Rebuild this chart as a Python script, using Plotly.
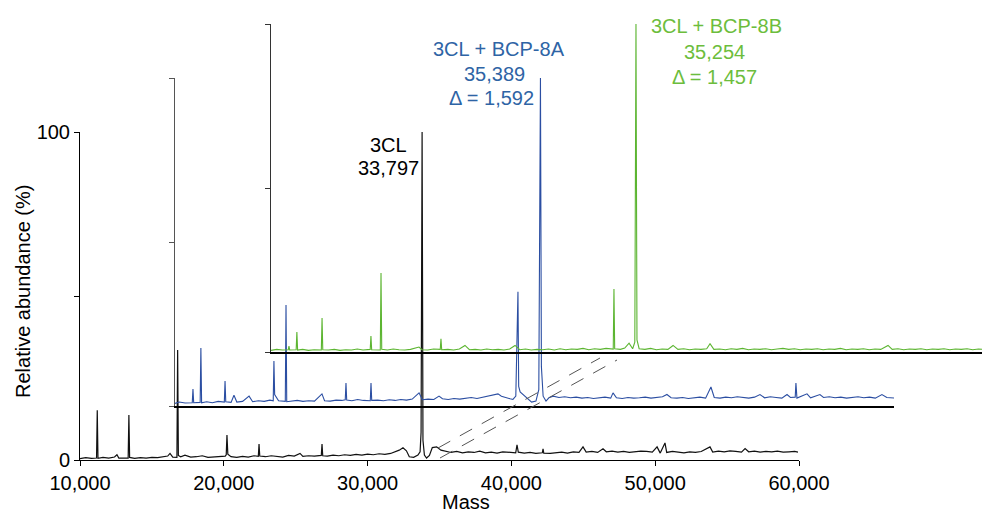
import plotly.graph_objects as go

W, H = 982, 513

# ---------------- data ----------------
black_mass = [10000, 10400, 10800, 11150, 11200, 11250, 11600, 12000, 12400, 12570, 12700, 13000,
              13350, 13400, 13450, 13800, 14200, 14600, 15000, 15400, 15800, 16100, 16260, 16450,
              16740, 16790, 16840, 17000, 17300, 17700, 18100, 18500, 18900, 19300, 19700, 20100,
              20170, 20220, 20280, 20500, 20900, 21300, 21700, 22100, 22400, 22450, 22500, 22900,
              23300, 23700, 24100, 24500, 24900, 25300, 25500, 25900, 26300, 26780, 26830, 26880,
              27200, 27600, 28000, 28400, 28800, 29200, 29600, 30000, 30400, 30800, 31200, 31600,
              31900, 32200, 32460, 32700, 32900, 33200, 33500, 33650, 33720, 33790, 33850, 33950,
              34100, 34300, 34500, 34800, 35100, 35400, 35800, 36200, 36600, 37000, 37400, 37800,
              38200, 38600, 39000, 39400, 39800, 40300, 40390, 40480, 40900, 41300, 41700, 42150,
              42200, 42250, 42700, 43100, 43500, 43900, 44300, 44700, 44980, 45200, 45600, 46000,
              46370, 46600, 47000, 47400, 47800, 48200, 48600, 49000, 49400, 49800, 50130, 50350,
              50680, 50800, 51200, 51600, 52000, 52400, 52800, 53200, 53810, 54000, 54400, 54800,
              55200, 55600, 56000, 56250, 56500, 56900, 57300, 57700, 58100, 58500, 58900, 59300,
              59700, 59930]
black_abund = [0.4, 0.7, 0.5, 0.6, 15.2, 0.5, 0.8, 0.6, 0.9, 1.6, 0.6, 0.7,
               0.6, 13.7, 0.8, 0.5, 0.7, 0.6, 0.8, 0.7, 0.9, 1.2, 2.0, 0.9,
               0.8, 33.5, 1.4, 1.0, 1.5, 0.9, 1.0, 1.3, 0.8, 0.9, 1.1, 1.2,
               1.6, 7.6, 1.8, 1.0, 0.8, 1.1, 0.9, 1.3, 1.1, 4.9, 1.2, 1.0,
               1.3, 1.1, 0.9, 1.4, 1.2, 2.0, 1.1, 1.3, 1.2, 1.4, 4.9, 1.3,
               1.2, 1.5, 1.3, 1.6, 1.4, 1.7, 1.5, 1.8, 1.6, 1.9, 1.7, 2.0,
               2.4, 3.0, 3.7, 2.8, 1.0, 0.8, 1.5, 2.5, 8.5, 100, 6.0, 1.5,
               0.6, 1.4, 3.8, 4.0, 3.0, 2.6, 2.3, 2.6, 2.2, 2.5, 2.3, 2.7,
               2.2, 2.4, 2.1, 2.5, 2.3, 2.2, 4.6, 2.4, 2.1, 2.3, 2.0, 2.2,
               3.4, 2.1, 2.0, 2.2, 2.4, 2.1, 2.5, 2.3, 4.0, 2.4, 2.6, 2.3,
               3.4, 2.5, 2.7, 2.4, 2.6, 2.3, 2.5, 2.7, 2.6, 2.4, 4.0, 2.1,
               5.2, 2.3, 2.6, 2.4, 2.2, 2.5, 2.3, 2.6, 4.0, 2.4, 2.7, 2.5,
               2.8, 2.6, 2.4, 3.5, 2.5, 2.7, 2.4, 2.6, 2.5, 2.7, 2.4, 2.5,
               2.6, 2.4]

blue_mass = [10000, 10300, 10700, 11200, 11250, 11300, 11750, 11800, 11850, 12200, 12600, 13000,
             13430, 13480, 13530, 13900, 14100, 14300, 14700, 15150, 15400, 15800, 16200, 16600,
             16830, 16880, 16930, 17200, 17670, 17720, 17770, 18100, 18500, 18900, 19300, 19700,
             20220, 20400, 20800, 21200, 21600, 21840, 21890, 21940, 22300, 22700, 23100, 23580,
             23630, 23680, 24100, 24500, 24900, 25300, 25700, 26100, 26500, 26970, 27200, 27600,
             28000, 28360, 28600, 29000, 29400, 29800, 30200, 30600, 31000, 31400, 31800, 32200,
             32460, 32700, 33000, 33300, 33500, 33700, 33850, 33900, 34000, 34200, 34500, 34800,
             35100, 35300, 35414, 35480, 35600, 35800, 36000, 36300, 36700, 37100, 37500, 37900,
             38300, 38700, 39100, 39500, 39900, 40300, 40460, 40700, 41100, 41500, 41900, 42300,
             42700, 43100, 43500, 43900, 44210, 44500, 44900, 45300, 45700, 46100, 46500, 46900,
             47270, 47500, 47900, 48300, 48700, 49100, 49500, 49900, 50300, 50680, 51000, 51400,
             51800, 52200, 52560, 52800, 53130, 53180, 53250, 53950, 54200, 54850, 55100, 55500,
             55900, 56300, 56700, 57100, 57500, 57900, 58300, 58700, 59160, 59500, 59800, 60100]
blue_abund = [0.8, 1.2, 0.9, 1.0, 5.2, 1.0, 1.1, 17.7, 1.0, 1.3, 1.0, 1.4,
              1.2, 7.6, 1.3, 1.1, 3.3, 1.2, 1.4, 3.0, 1.3, 1.6, 1.4, 1.8,
              1.6, 13.7, 3.5, 1.6, 1.4, 30.8, 1.3, 1.5, 1.7, 1.4, 1.6, 1.5,
              3.7, 1.6, 1.5, 1.8, 1.7, 1.9, 7.0, 1.8, 1.6, 2.0, 1.7, 1.6,
              7.0, 1.7, 1.8, 1.6, 1.9, 1.7, 2.0, 1.8, 2.1, 4.0, 1.9, 2.1,
              2.0, 3.0, 2.2, 2.0, 2.3, 2.1, 2.4, 2.6, 2.3, 2.7, 2.9, 3.4,
              3.7, 3.0, 2.5, 2.2, 2.0, 3.0, 34.8, 6.0, 4.3, 3.5, 2.5, 1.2,
              1.5, 5.0, 100, 12.0, 3.0, 1.5, 2.5, 3.0, 2.6, 2.8, 2.5, 2.7,
              2.4, 2.6, 2.3, 2.5, 2.7, 2.4, 4.0, 2.5, 2.3, 2.6, 2.4, 2.5,
              2.7, 2.4, 2.6, 2.8, 3.5, 2.5, 2.4, 2.6, 2.3, 2.5, 2.7, 2.4,
              5.8, 2.6, 2.4, 2.7, 2.5, 2.8, 2.6, 2.4, 2.7, 3.5, 2.5, 2.8,
              2.6, 2.4, 3.5, 2.6, 2.7, 7.0, 2.4, 3.7, 2.5, 3.5, 2.6, 2.8,
              2.5, 2.7, 2.4, 2.6, 2.8, 2.5, 2.7, 2.4, 3.5, 2.6, 2.5, 2.4]

green_mass = [10000, 10400, 10800, 11200, 11250, 11300, 11750, 11800, 11850, 12200, 12600, 13000,
              13500, 13550, 13600, 14000, 14400, 14800, 15200, 15600, 16000, 16400, 16900, 16950,
              17000, 17600, 17650, 17700, 18100, 18500, 18900, 19300, 19700, 20290, 20500, 20900,
              21300, 21770, 21820, 21870, 22300, 22700, 23100, 23490, 23800, 24200, 24600, 25000,
              25400, 25800, 26200, 26600, 26970, 27300, 27700, 28100, 28500, 28900, 29300, 29700,
              30100, 30500, 30900, 31300, 31700, 32100, 32500, 32900, 33300, 33800, 33850, 33900,
              34300, 34600, 34900, 35150, 35300, 35381, 35450, 35600, 36000, 36400, 36800, 37200,
              37600, 37960, 38300, 38700, 39100, 39500, 39900, 40300, 40530, 40800, 41200, 41600,
              42000, 42400, 42800, 43200, 43600, 44000, 44400, 44800, 45200, 45600, 46000, 46400,
              46800, 47200, 47600, 48000, 48400, 48800, 49200, 49600, 50000, 50400, 50800, 51200,
              51600, 52000, 52400, 52910, 53200, 53600, 54000, 54400, 54800, 55200, 55600, 56000,
              56400, 56800, 57200, 57600, 58000, 58400, 58800, 59200, 59600, 60000]
green_abund = [0.5, 0.8, 0.6, 0.7, 1.8, 0.6, 0.7, 6.1, 0.6, 0.8, 0.5, 0.7,
               0.6, 10.4, 0.7, 0.6, 0.8, 0.5, 0.7, 0.6, 0.9, 0.6, 0.8, 4.9,
               0.7, 0.6, 24.1, 0.8, 0.6, 0.9, 0.7, 0.6, 0.8, 1.5, 0.7, 0.6,
               0.9, 0.8, 4.0, 0.7, 0.8, 0.6, 0.9, 2.0, 0.7, 0.8, 0.6, 0.9,
               0.7, 0.8, 0.6, 0.9, 2.0, 0.7, 0.9, 0.6, 0.8, 0.7, 0.9, 0.6,
               1.0, 0.7, 0.9, 0.8, 1.1, 0.7, 1.0, 0.8, 1.1, 0.9, 19.2, 1.0,
               0.8, 1.2, 2.7, 1.0, 3.0, 100, 3.7, 1.0, 0.8, 1.1, 0.7, 0.9,
               0.8, 2.0, 0.8, 1.0, 0.7, 0.9, 0.8, 1.0, 2.5, 0.8, 0.9, 0.7,
               1.0, 0.8, 1.1, 0.7, 0.9, 0.8, 1.0, 0.7, 0.9, 1.1, 0.8, 1.0,
               0.7, 0.9, 0.8, 1.0, 0.7, 0.9, 0.8, 1.1, 0.7, 0.9, 0.8, 1.0,
               0.7, 0.9, 0.8, 2.0, 0.8, 1.0, 0.7, 0.9, 0.8, 1.0, 0.7, 0.9,
               0.8, 1.0, 0.7, 0.9, 0.8, 1.0, 0.7, 0.9, 0.8, 0.9]

mass_ticks = [10000, 20000, 30000, 40000, 50000, 60000]
mass_tick_text = ["10,000", "20,000", "30,000", "40,000", "50,000", "60,000"]
abund_ticks = [0, 50, 100]
abund_tick_text = ["0", "", "100"]

labels_black = ["3CL", "33,797"]
labels_blue = ["3CL + BCP-8A", "35,389", "Δ = 1,592"]
labels_green = ["3CL + BCP-8B", "35,254", "Δ = 1,457"]

# ---------------- layout helpers (screen pixel -> paper fraction) ----------------
def fx(p):
    return p / W

def fy(p):
    return (H - p) / H

FONT = "Liberation Sans, Arial, sans-serif"
C_BLACK = "#111111"
C_BLUE = "#2b4ea2"
C_GREEN = "#5cb531"
T_BLUE = "#2e64a5"
T_GREEN = "#6cbd3c"

fig = go.Figure()
for xs, ys, ax, ay, col, lw in [
    (black_mass, black_abund, "x", "y", C_BLACK, 1.2),
    (blue_mass, blue_abund, "x2", "y2", C_BLUE, 1.1),
    (green_mass, green_abund, "x3", "y3", C_GREEN, 1.1),
]:
    fig.add_trace(go.Scatter(x=xs, y=ys, xaxis=ax, yaxis=ay, mode="lines",
                             line=dict(color=col, width=lw), showlegend=False,
                             hoverinfo="skip"))

px_per_mass = (799 - 80) / 50000.0
green_max = 10000 + (982 - 271) / px_per_mass

common_x = dict(showgrid=False, zeroline=False, showline=True, linecolor="#000000",
                automargin=False)
common_y = dict(showgrid=False, zeroline=False, showline=True, range=[0, 100],
                tickvals=abund_ticks, ticks="outside", ticklen=5, tickwidth=1,
                automargin=False)

fig.update_layout(
    template="none",
    width=W, height=H,
    margin=dict(l=0, r=0, t=0, b=0, pad=0, autoexpand=False),
    paper_bgcolor="white", plot_bgcolor="rgba(0,0,0,0)",
    font=dict(family=FONT, size=20, color="#000000"),
    xaxis=dict(**common_x, domain=[fx(80), fx(799)], range=[10000, 60000], anchor="y",
               linewidth=1, ticks="outside", ticklen=5, tickwidth=1, tickcolor="#000",
               tickvals=mass_ticks, ticktext=mass_tick_text, tickfont=dict(size=20)),
    yaxis=dict(**common_y, domain=[fy(460), fy(132)], anchor="x", linecolor="#000",
               linewidth=1, tickcolor="#000", ticktext=abund_tick_text,
               tickfont=dict(size=20)),
    xaxis2=dict(**common_x, domain=[fx(175), fx(894)], range=[10000, 60000], anchor="y2",
                linewidth=1.5, ticks="", showticklabels=False),
    yaxis2=dict(**common_y, domain=[fy(406), fy(78)], anchor="x2", linecolor="#555",
                linewidth=1.5, tickcolor="#555", showticklabels=False),
    xaxis3=dict(**common_x, domain=[fx(271), 1.0], range=[10000, green_max], anchor="y3",
                linewidth=1.5, ticks="", showticklabels=False),
    yaxis3=dict(**common_y, domain=[fy(352), fy(24)], anchor="x3", linecolor="#333",
                linewidth=1.5, tickcolor="#333", showticklabels=False),
)

ann = []
def add_text(t, xp, yp, color, angle=0):
    ann.append(dict(text=t, x=fx(xp), y=fy(yp), xref="paper", yref="paper",
                    xanchor="center", yanchor="middle", showarrow=False,
                    textangle=angle, font=dict(family=FONT, size=20, color=color)))

for t, yp in zip(labels_black, [145, 168]):
    add_text(t, 388, yp, "#000000")
for t, xp, yp in zip(labels_blue, [499, 495, 491], [49, 74, 98]):
    add_text(t, xp, yp, T_BLUE)
for t, xp, yp in zip(labels_green, [716, 714, 714], [26, 52, 77]):
    add_text(t, xp, yp, T_GREEN)
add_text("Mass", 466, 502, "#000000")
add_text("Relative abundance (%)", 23, 292, "#000000", angle=-90)
fig.update_layout(annotations=ann)

# dashed guide lines
shapes = []
for (x0, y0, x1, y1) in [(438, 448, 600, 358), (440, 458, 617, 360)]:
    shapes.append(dict(type="line", xref="paper", yref="paper",
                       x0=fx(x0), y0=fy(y0), x1=fx(x1), y1=fy(y1),
                       line=dict(color="#555555", width=1, dash="14px,11px")))
fig.update_layout(shapes=shapes)

fig.write_html("out.html",
               config={"displayModeBar": False, "staticPlot": True},
               post_script="document.body.style.margin='0px';"
                           "document.body.style.overflow='hidden';")
